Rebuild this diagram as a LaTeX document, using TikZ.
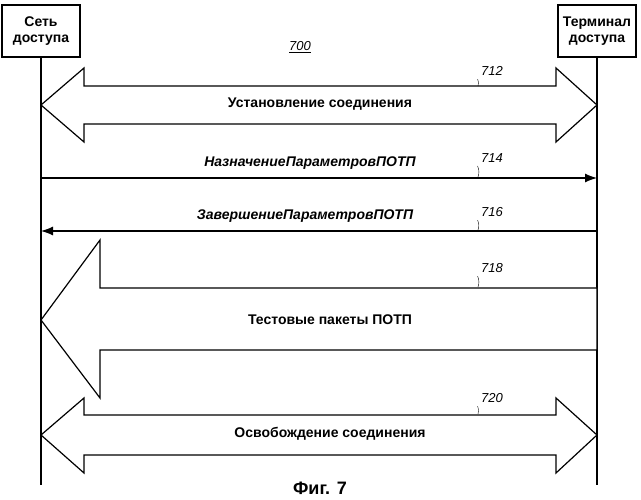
\documentclass[tikz,border=0pt]{standalone}
\usepackage{fontspec}
\setmainfont{Liberation Sans}
\usetikzlibrary{arrows.meta}
\begin{document}
\begin{tikzpicture}[x=1pt,y=-1pt]
\tikzstyle{party} = [rectangle, draw=black, line width=1.2pt, minimum width=78pt, minimum height=52pt, inner sep=1pt, align=center, font=\bfseries\fontsize{14}{16}\selectfont]
\tikzstyle{msg} = [font=\bfseries\fontsize{14}{16}\selectfont]
\tikzstyle{imsg} = [font=\bfseries\itshape\fontsize{14}{16}\selectfont]
\tikzstyle{refnum} = [font=\itshape\fontsize{13}{15}\selectfont]
\tikzstyle{fat} = [draw=black, line width=1.2pt, fill=white]
\useasboundingbox (0,0) rectangle (641,500);

\node(net) [party] at (41,31) {Сеть\\доступа};
\node(term) [party] at (597,31) {Терминал\\доступа};
\coordinate (netEnd) at (41,485);
\coordinate (termEnd) at (597,485);
\draw[line width=1.2pt] (net.south) -- (netEnd);
\draw[line width=1.2pt] (term.south) -- (termEnd);

\node(fig) [refnum] at (300,47) {\underline{700}};

% 712
\draw[fat] (41,105) -- (84,68) -- (84,86) -- (556,86) -- (556,68) -- (597,105)
  -- (556,142) -- (556,124) -- (84,124) -- (84,142) -- cycle;
\node(setup) [msg] at (320,104) {Установление соединения};
\node(n712) [refnum] at (492,71) {712};
\draw (n712.south west) to[bend left=20] (478,86);

% 714
\draw[line width=1.2pt,-{Latex[length=12pt,width=9pt]}] (41,178) -- (597,178);
\node(assign) [imsg] at (310,163) {НазначениеПараметровПОТП};
\node(n714) [refnum] at (492,158) {714};
\draw (n714.south west) to[bend left=20] (478,177);

% 716
\draw[line width=1.2pt,-{Latex[length=12pt,width=9pt]}] (597,231) -- (41,231);
\node(done) [imsg] at (305,216) {ЗавершениеПараметровПОТП};
\node(n716) [refnum] at (492,212) {716};
\draw (n716.south west) to[bend left=20] (478,230);

% 718
\draw[fat] (41,320) -- (100,240) -- (100,288) -- (597,288) -- (597,350)
  -- (100,350) -- (100,398) -- cycle;
\node(tests) [msg] at (330,320) {Тестовые пакеты ПОТП};
\node(n718) [refnum] at (492,268) {718};
\draw (n718.south west) to[bend left=20] (478,287);

% 720
\draw[fat] (41,435) -- (84,398) -- (84,415) -- (556,415) -- (556,398) -- (597,435)
  -- (556,473) -- (556,455) -- (84,455) -- (84,473) -- cycle;
\node(release) [msg] at (330,434) {Освобождение соединения};
\node(n720) [refnum] at (492,398) {720};
\draw (n720.south west) to[bend left=20] (478,414);

\node(caption) [font=\bfseries\fontsize{18}{20}\selectfont] at (320,488) {Фиг. 7};
\end{tikzpicture}
\end{document}
